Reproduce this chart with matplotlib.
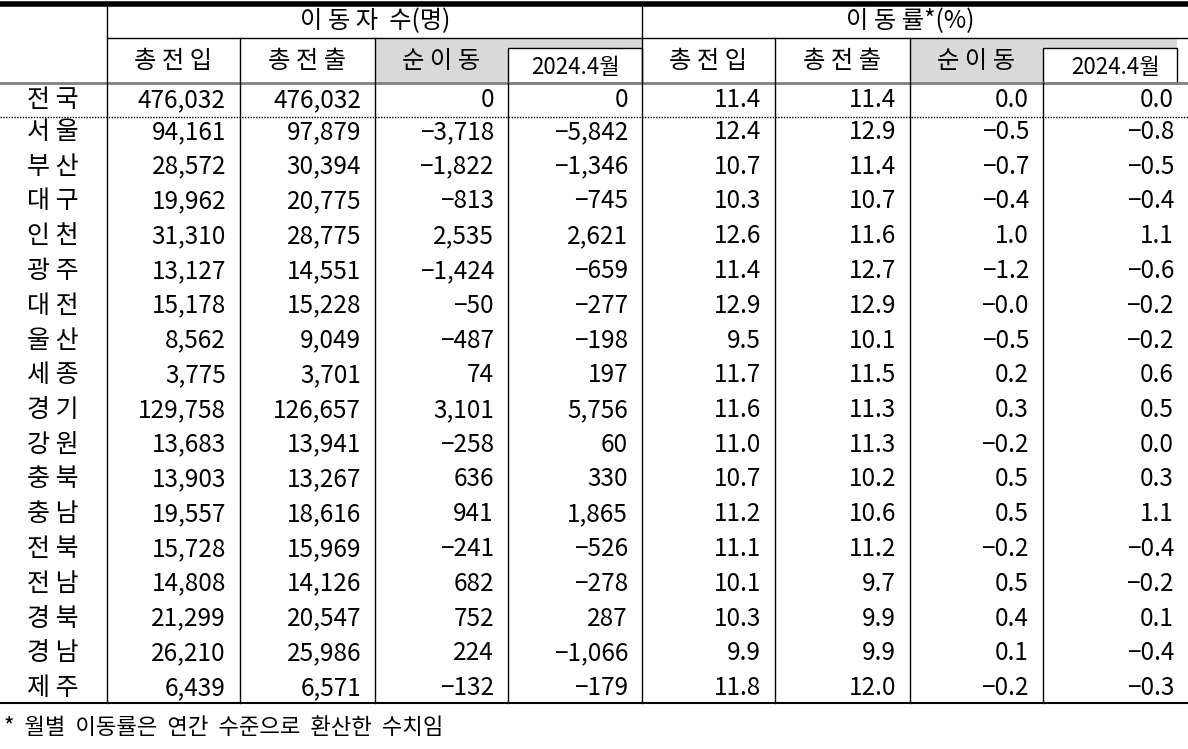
import matplotlib
matplotlib.use("Agg")
import matplotlib.pyplot as plt
from matplotlib.patches import Rectangle

plt.rcParams['font.family'] = ['Noto Sans CJK KR', 'DejaVu Sans']

regions = ["전국","서울","부산","대구","인천","광주","대전","울산","세종","경기","강원","충북","충남","전북","전남","경북","경남","제주"]
in_cnt = [476032,94161,28572,19962,31310,13127,15178,8562,3775,129758,13683,13903,19557,15728,14808,21299,26210,6439]
out_cnt = [476032,97879,30394,20775,28775,14551,15228,9049,3701,126657,13941,13267,18616,15969,14126,20547,25986,6571]
net_cnt = [0,-3718,-1822,-813,2535,-1424,-50,-487,74,3101,-258,636,941,-241,682,752,224,-132]
net_prev = [0,-5842,-1346,-745,2621,-659,-277,-198,197,5756,60,330,1865,-526,-278,287,-1066,-179]
in_rate = [11.4,12.4,10.7,10.3,12.6,11.4,12.9,9.5,11.7,11.6,11.0,10.7,11.2,11.1,10.1,10.3,9.9,11.8]
out_rate = [11.4,12.9,11.4,10.7,11.6,12.7,12.9,10.1,11.5,11.3,11.3,10.2,10.6,11.2,9.7,9.9,9.9,12.0]
net_rate = ["0.0","-0.5","-0.7","-0.4","1.0","-1.2","-0.0","-0.5","0.2","0.3","-0.2","0.5","0.5","-0.2","0.5","0.4","0.1","-0.2"]
prev_rate = [0.0,-0.8,-0.5,-0.4,1.1,-0.6,-0.2,-0.2,0.6,0.5,0.0,0.3,1.1,-0.4,-0.2,0.1,-0.4,-0.3]
group_labels = ["이동자 수(명)", "이동률*(%)"]
sub_labels = ["총전입","총전출","순이동","2024.4월"]
footnote = "* 월별 이동률은 연간 수준으로 환산한 수치임"

def fi(v): return f"{v:,}".replace("-", "−")
def ff(v): return (v if isinstance(v, str) else f"{v:.1f}").replace("-", "−")
def spaced(s, n=1): return (" " * n).join(s)

fig = plt.figure(figsize=(11.88, 7.49), dpi=100)
ax = fig.add_axes([0, 0, 1, 1])
ax.set_xlim(0, 1188); ax.set_ylim(749, 0); ax.axis('off')

xs = [0, 107, 240, 375, 508, 642, 775, 910, 1043, 1188]
top, h1, h2, y_head, y_dot, y_bot = 4, 38, 48, 83, 117, 703
row0 = 100; rowh = (688 - 132) / 16

for gx in (375, 910):
    ax.add_patch(Rectangle((gx, h1), 267, y_head - h1, color='#d9d9d9', lw=0, zorder=0))
    ax.add_patch(Rectangle((gx + 133, h2), 134, y_head - h2, facecolor='white', edgecolor='black', lw=1, zorder=1))

ax.plot([0, 1188], [top, top], color='black', lw=4)
ax.plot([107, 1188], [h1, h1], color='black', lw=1)
ax.plot([0, 1188], [y_head, y_head], color='#808080', lw=2)
ax.plot([0, 1188], [y_dot, y_dot], color='black', lw=1, ls=(0, (1, 1)))
ax.plot([0, 1188], [y_bot, y_bot], color='black', lw=1.5)
ax.plot([107, 107], [top, y_bot], color='black', lw=1)
ax.plot([642, 642], [top, y_bot], color='black', lw=1)
for x in [240, 375, 775, 910]:
    ax.plot([x, x], [h1, y_bot], color='black', lw=1)
for x in [508, 1043]:
    ax.plot([x, x], [y_head, y_bot], color='black', lw=1)

fs = 17.5
ax.text(375, 21, "이 동 자  수(명)", ha='center', va='center', fontsize=fs)
ax.text(910, 21, "이 동 률*(%)", ha='center', va='center', fontsize=fs)
for g in range(2):
    for j, lab in enumerate(sub_labels):
        x0, x1 = xs[1 + 4*g + j], xs[2 + 4*g + j]
        if j == 3:
            ax.text((x0 + x1) / 2, 67, lab, ha='center', va='center', fontsize=16, zorder=3)
        else:
            ax.text((x0 + x1) / 2, 61, spaced(lab), ha='center', va='center', fontsize=fs, zorder=3)

cols = [[fi(v) for v in in_cnt], [fi(v) for v in out_cnt], [fi(v) for v in net_cnt], [fi(v) for v in net_prev],
        [ff(v) for v in in_rate], [ff(v) for v in out_rate], [ff(v) for v in net_rate], [ff(v) for v in prev_rate]]
for i, r in enumerate(regions):
    y = row0 if i == 0 else 132 + (i - 1) * rowh
    ax.text(53, y, spaced(r), ha='center', va='center', fontsize=18)
    for c in range(8):
        ax.text(xs[c + 2] - 14, y, cols[c][i], ha='right', va='center', fontsize=fs)

ax.text(4, 727, " ".join(footnote.split(" ")).replace(" ", "  "), ha='left', va='center', fontsize=16)
fig.savefig("out.png", dpi=100)
